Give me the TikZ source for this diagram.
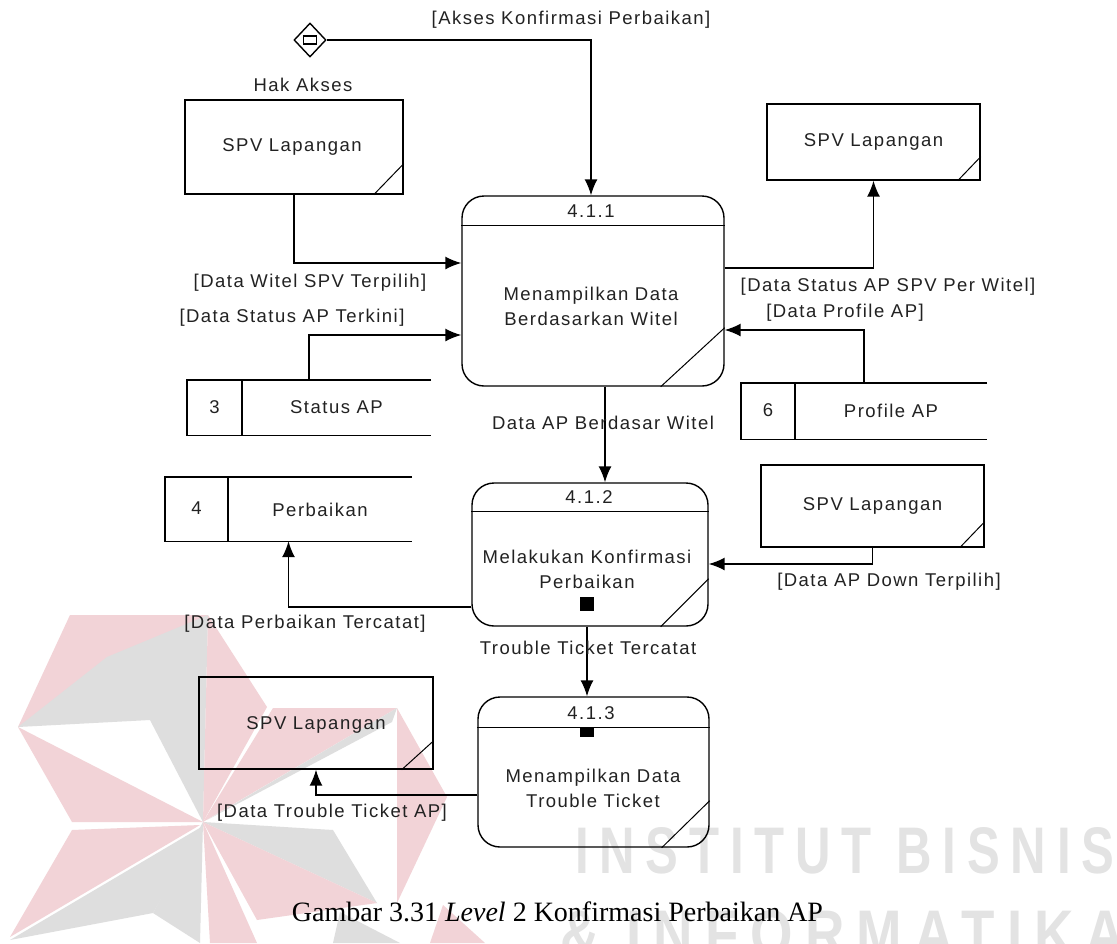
\documentclass[tikz,border=0pt]{standalone}
\usepackage{fontspec}
\usepackage{graphicx}
\usetikzlibrary{arrows.meta,shapes.geometric,calc}
\newfontfamily\dfdfont{Liberation Sans}[LetterSpace=8.0]
\newfontfamily\capfont{Liberation Serif}
\newfontfamily\markfont{Liberation Sans}[LetterSpace=22.0]
\definecolor{wmpink}{HTML}{F2D3D7}
\definecolor{wmgray}{HTML}{DEDEDE}
\definecolor{wmtext}{HTML}{E3E3E3}
\definecolor{ink}{HTML}{222222}
\tikzset{
  txt/.style={font=\dfdfont\fontsize{18.5}{25}\selectfont, text=ink, inner sep=0pt, align=center},
  entity/.style={draw, line width=1.4pt, inner sep=0pt},
  proc/.style={draw, line width=1.4pt, rounded corners=22pt, inner sep=0pt},
  store/.style={inner sep=0pt},
  thinline/.style={line width=1.4pt},
  slash/.style={line width=1pt},
  flow/.style={line width=1.5pt, -{Latex[length=16pt,width=13pt]}},
  blob/.style={fill=black, inner sep=0pt},
}
\begin{document}
\begin{tikzpicture}[x=1pt,y=-1pt]
\useasboundingbox (0,0) rectangle (1117,943);
\fill[white] (0,0) rectangle (1117,943);

% ---- background emblem ----
\fill[wmpink] (70,615) -- (208,615) -- (18,727) -- cycle;
\fill[wmgray] (18,727) -- (107,657) -- (208,615) -- (203,822) -- (150,720) -- cycle;
\fill[wmpink] (208,615) -- (267,707) -- (203,822) -- cycle;
\fill[wmpink] (273,708) -- (397,708) -- (203,822) -- cycle;
\fill[wmgray] (397,708) -- (392,722) -- (207,820) -- cycle;
\fill[wmpink] (397,708) -- (447,797) -- (397,903) -- cycle;
\fill[wmpink] (18,727) -- (203,822) -- (72,822) -- cycle;
\fill[wmgray] (203,822) -- (333,830) -- (377,903) -- cycle;
\fill[wmpink] (203,822) -- (377,903) -- (257,920) -- cycle;
\fill[wmpink] (203,822) -- (257,943) -- (210,943) -- cycle;
\fill[wmgray] (203,822) -- (200,943) -- (153,913) -- cycle;
\fill[wmpink] (72,830) -- (200,825) -- (10,937) -- cycle;
\fill[wmgray] (203,826) -- (153,913) -- (10,940) -- cycle;
\fill[wmgray] (340,912) -- (400,943) -- (333,943) -- cycle;
\fill[wmpink] (443,905) -- (485,943) -- (430,943) -- cycle;
\node[anchor=north west, inner sep=0pt, text=wmtext] (wmA) at (575,827)
  {\resizebox{539pt}{46pt}{\markfont\bfseries INSTITUT BISNIS}};
\node[anchor=north west, inner sep=0pt, text=wmtext] (wmB) at (560,910)
  {\resizebox{565pt}{46pt}{\markfont\bfseries \& INFORMATIKA}};

% ---- access control ----
\node[draw, diamond, line width=1.4pt, minimum width=32pt, minimum height=34pt, inner sep=0pt] (acc) at (310,40) {};
\node[draw, line width=1.2pt, minimum width=13pt, minimum height=8pt, inner sep=0pt] (accbar) at (310,40) {};

% ---- external entities ----
\node[entity, minimum width=218pt, minimum height=94pt] (e1) at (294,147) {};
\node[entity, minimum width=213pt, minimum height=76pt] (e2) at (873.5,142) {};
\node[entity, minimum width=223pt, minimum height=82pt] (e3) at (872.5,506) {};
\node[entity, minimum width=234pt, minimum height=92pt] (e4) at (316,723) {};
\node[txt] (e1t) at (292,147) {SPV Lapangan};
\node[txt] (e2t) at (873.5,142) {SPV Lapangan};
\node[txt] (e3t) at (872.5,506) {SPV Lapangan};
\node[txt] (e4t) at (316,725) {SPV Lapangan};
\draw[slash] ([xshift=-30pt]e1.south east) -- ([yshift=31pt]e1.south east);
\draw[slash] ([xshift=-23pt]e2.south east) -- ([yshift=24pt]e2.south east);
\draw[slash] ([xshift=-25pt]e3.south east) -- ([yshift=26pt]e3.south east);
\draw[slash] ([xshift=-32pt]e4.south east) -- ([yshift=29pt]e4.south east);

% ---- processes ----
\node[proc, minimum width=262pt, minimum height=190pt] (p1) at (593,291) {};
\node[proc, minimum width=236pt, minimum height=143pt] (p2) at (590,554.5) {};
\node[proc, minimum width=231pt, minimum height=150pt] (p3) at (593.5,772) {};
\draw[thinline] ([yshift=-30pt]p1.north west) -- ([yshift=-30pt]p1.north east);
\draw[thinline] ([yshift=-29pt]p2.north west) -- ([yshift=-29pt]p2.north east);
\draw[thinline] ([yshift=-31pt]p3.north west) -- ([yshift=-31pt]p3.north east);
\draw[slash] ([xshift=-64pt]p1.south east) -- ([yshift=59pt]p1.south east);
\draw[slash] ([xshift=-48pt]p2.south east) -- ([yshift=48pt]p2.south east);
\draw[slash] ([xshift=-48pt]p3.south east) -- ([yshift=47pt]p3.south east);
\node[txt] (p1n) at (591,211) {4.1.1};
\node[txt] (p2n) at (589,497) {4.1.2};
\node[txt] (p3n) at (591,713) {4.1.3};
\node[txt] (p1t) at (591,306) {Menampilkan Data\\Berdasarkan Witel};
\node[txt] (p2t) at (587,569.5) {Melakukan Konfirmasi\\Perbaikan};
\node[txt] (p3t) at (593,788.5) {Menampilkan Data\\Trouble Ticket};
\node[blob, minimum width=14pt, minimum height=14pt] (p2m) at (587,604) {};
\node[blob, minimum width=14pt, minimum height=9pt] (p3m) at (587,732.5) {};

% ---- data stores ----
\node[store, minimum width=244pt, minimum height=55pt] (s3) at (309,407.5) {};
\node[store, minimum width=246pt, minimum height=56pt] (s6) at (864,411) {};
\node[store, minimum width=247pt, minimum height=64pt] (s4) at (288.5,509) {};
\foreach \s/\d in {s3/55, s6/54, s4/63}{
  \draw[thinline] (\s.north east) -- (\s.north west) -- (\s.south west) -- (\s.south east);
  \draw[thinline] ([xshift=\d pt]\s.north west) -- ([xshift=\d pt]\s.south west);
}
\node[txt] (s3i) at (214.5,407.5) {3};
\node[txt] (s3t) at (336.5,407.5) {Status AP};
\node[txt] (s6i) at (768,410) {6};
\node[txt] (s6t) at (891,411) {Profile AP};
\node[txt] (s4i) at (196.5,508) {4};
\node[txt] (s4t) at (320,510) {Perbaikan};

% ---- data flows ----
\draw[flow] (acc.east) -| ([xshift=-2pt]p1.north);
\draw[flow] (e1.south) |- ([yshift=28pt]p1.west);
\draw[flow] (s3.north) |- ([yshift=-44pt]p1.west);
\draw[flow] ([yshift=23pt]p1.east) -| (e2.south);
\draw[flow] (s6.north) |- ([yshift=-39pt]p1.east);
\draw[flow] ([xshift=12pt]p1.south) -- ([xshift=12pt]p1.south |- p2.north);
\draw[flow] (e3.south) |- ([yshift=-9.5pt]p2.east);
\draw[flow] ([yshift=-52.5pt]p2.west) -| (s4.south);
\draw[flow] ([xshift=-3pt]p2.south) -- ([xshift=-3pt]p2.south |- p3.north);
\draw[flow] ([yshift=-23pt]p3.west) -| (e4.south);

% ---- flow labels ----
\node[txt] (l1) at (571,20) {[Akses Konfirmasi Perbaikan]};
\node[txt] (l2) at (303,85) {Hak Akses};
\node[txt] (l3) at (310,283) {[Data Witel SPV Terpilih]};
\node[txt] (l4) at (292,318) {[Data Status AP Terkini]};
\node[txt] (l5) at (888,287) {[Data Status AP SPV Per Witel]};
\node[txt] (l6) at (845,313) {[Data Profile AP]};
\node[txt] (l7) at (603,423) {Data AP Berdasar Witel};
\node[txt] (l8) at (889,582) {[Data AP Down Terpilih]};
\node[txt] (l9) at (305,624) {[Data Perbaikan Tercatat]};
\node[txt] (l10) at (588,648) {Trouble Ticket Tercatat};
\node[txt] (l11) at (332,813) {[Data Trouble Ticket AP]};

% ---- caption ----
\node[anchor=base, inner sep=0pt, font=\capfont\fontsize{28}{30}\selectfont] (cap) at (557.5,921)
  {Gambar 3.31 \textit{Level} 2 Konfirmasi Perbaikan AP};
\end{tikzpicture}
\end{document}
